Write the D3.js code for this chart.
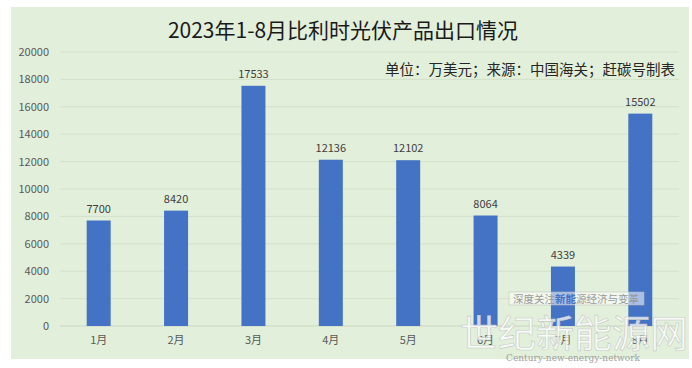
<!DOCTYPE html>
<html>
<head>
<meta charset="utf-8">
<script src="https://cdn.jsdelivr.net/npm/d3@7"></script>
<style>
  body { margin: 0; background: #fff; }
  text { font-family: "Noto Sans CJK SC", "Noto Sans", sans-serif; }
</style>
</head>
<body>
<svg id="chart"></svg>
<script>
/* data */
let months = ["1月", "2月", "3月", "4月", "5月", "6月", "7月", "8月"];
let values = [7700, 8420, 17533, 12136, 12102, 8064, 4339, 15502];
let yTicks = [0, 2000, 4000, 6000, 8000, 10000, 12000, 14000, 16000, 18000, 20000];
let title = "2023年1-8月比利时光伏产品出口情况";
let note = "单位：万美元；来源：中国海关；赶碳号制表";

/* chart */
!(function() {
  let width = 692, height = 368;
  let margin = {top: 52, right: 13, bottom: 42, left: 60};

  let svg = d3.select("#chart")
    .attr("width", width)
    .attr("height", height);

  // panel background
  svg.append("rect")
    .attr("x", 11).attr("y", 7)
    .attr("width", 678).attr("height", 352)
    .attr("fill", "#e2efda");

  let x = d3.scaleBand()
    .domain(months)
    .range([margin.left, width - margin.right])
    .paddingInner(0.69)
    .paddingOuter(0.345);

  let y = d3.scaleLinear()
    .domain([0, 20000])
    .range([height - margin.bottom, margin.top]);

  // gridlines
  svg.append("g")
    .selectAll("line")
    .data(yTicks)
    .enter().append("line")
    .attr("x1", margin.left)
    .attr("x2", width - margin.right)
    .attr("y1", d => y(d))
    .attr("y2", d => y(d))
    .attr("stroke", d => d == 0 ? "#c9d6c0" : "#d3e2c9")
    .attr("stroke-width", 1);

  // y axis
  let yAxis = svg.append("g")
    .attr("transform", "translate(" + (margin.left - 11) + ",0)")
    .call(d3.axisLeft(y).tickValues(yTicks).tickFormat(d3.format("d")).tickSize(0).tickPadding(0));
  yAxis.select(".domain").remove();
  yAxis.selectAll("text")
    .attr("fill", "#595959")
    .style("font-size", "11px");

  // x axis
  let xAxis = svg.append("g")
    .attr("transform", "translate(0," + y(0) + ")")
    .call(d3.axisBottom(x).tickSize(0).tickPadding(10));
  xAxis.select(".domain").remove();
  xAxis.selectAll("text")
    .attr("fill", "#595959")
    .style("font-size", "11px");

  // bars
  svg.selectAll(".bar")
    .data(values)
    .enter().append("rect")
    .attr("class", "bar")
    .attr("x", (d, i) => x(months[i]))
    .attr("width", x.bandwidth())
    .attr("y", d => y(d))
    .attr("height", d => y(0) - y(d))
    .style("fill", "#4472c4");

  // value labels
  svg.selectAll(".val")
    .data(values)
    .enter().append("text")
    .attr("class", "val")
    .attr("x", (d, i) => x(months[i]) + x.bandwidth() / 2)
    .attr("y", d => y(d) - 8)
    .attr("text-anchor", "middle")
    .attr("fill", "#404040")
    .style("font-size", "11px")
    .text(d => d);

  // title
  svg.append("text")
    .attr("x", 343).attr("y", 38)
    .attr("text-anchor", "middle")
    .attr("fill", "#1a1a1a")
    .style("font-size", "21px")
    .text(title);

  svg.append("text")
    .attr("x", 675).attr("y", 75)
    .attr("text-anchor", "end")
    .attr("fill", "#262626")
    .style("font-size", "14.5px")
    .text(note);

  // watermark
  let wm = svg.append("g");
  wm.append("rect")
    .attr("x", 509).attr("y", 292)
    .attr("width", 135).attr("height", 13)
    .attr("fill", "#ffffff").attr("fill-opacity", 0.55)
    .attr("stroke", "#bbbbbb").attr("stroke-width", 0.5);
  let tag = wm.append("text")
    .attr("x", 576).attr("y", 302.5)
    .attr("text-anchor", "middle")
    .style("font-size", "10.5px")
    .attr("fill", "#9a9a9a");
  tag.append("tspan").text("深度关注");
  tag.append("tspan").attr("fill", "#4472c4").attr("font-weight", "bold").text("新能");
  tag.append("tspan").text("源经济与变革");

  wm.append("text")
    .attr("x", 574).attr("y", 347)
    .attr("text-anchor", "middle")
    .style("font-size", "38px")
    .attr("fill", "#ffffff").attr("fill-opacity", 0.75)
    .attr("stroke", "#c8c8c8").attr("stroke-width", 0.6)
    .text("世纪新能源网");

  wm.append("text")
    .attr("x", 573).attr("y", 361)
    .attr("text-anchor", "middle")
    .style("font-family", "'DejaVu Serif', serif")
    .style("font-size", "9px")
    .attr("fill", "#a0a0a0")
    .text("Century-new-energy-network");
})();
</script>
</body>
</html>
